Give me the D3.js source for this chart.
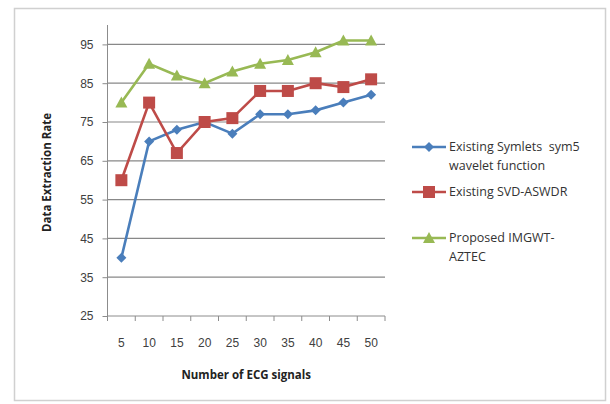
<!DOCTYPE html>
<html><head><meta charset="utf-8">
<script src="https://cdn.jsdelivr.net/npm/d3@7"></script>
<style>body{margin:0;background:#fff;}svg{display:block;font-family:"Open Sans","Liberation Sans",sans-serif;}text{white-space:pre;}</style>
</head><body><svg id="c" width="610" height="404"></svg>
<script>
const categories = [5,10,15,20,25,30,35,40,45,50];
const symletsValues = [40,70,73,75,72,77,77,78,80,82];
const svdValues = [60,80,67,75,76,83,83,85,84,86];
const proposedValues = [80,90,87,85,88,90,91,93,96,96];
const yTicks = [25,35,45,55,65,75,85,95];
const seriesNames = [["Existing Symlets  sym5","wavelet function"],["Existing SVD-ASWDR"],["Proposed IMGWT-","AZTEC"]];

const series = [
  {name: seriesNames[0], values: symletsValues, color: "#4A7EBB", shape: "diamond"},
  {name: seriesNames[1], values: svdValues, color: "#BE4B48", shape: "square"},
  {name: seriesNames[2], values: proposedValues, color: "#98B954", shape: "triangle"}
];

const svg = d3.select("#c");
svg.append("rect").attr("x",14.5).attr("y",8.5).attr("width",591).attr("height",392)
  .attr("fill","#fff").attr("stroke","#d0d0d0").attr("stroke-width",1.5);

const L = 107.5, R = 385, T = 25, B = 316;
const x = d3.scaleBand().domain(categories).range([L, R]);
const y = d3.scaleLinear().domain([25,100]).range([B, T]);

svg.append("g").selectAll("line").data(yTicks.filter(d=>d>25)).join("line")
  .attr("x1",L).attr("x2",R).attr("y1",d=>y(d)).attr("y2",d=>y(d))
  .attr("stroke","#888").attr("stroke-width",1.2);

const yAxis = svg.append("g").attr("transform",`translate(${L},0)`)
  .call(d3.axisLeft(y).tickValues(yTicks).tickSize(5).tickPadding(9));
yAxis.select(".domain").attr("stroke","#8c8c8c").attr("d",`M-0,${T}V${B}`);
yAxis.selectAll(".tick line").attr("stroke","#8c8c8c");
yAxis.selectAll("text").attr("font-size",12).attr("fill","#404040");

const xAxis = svg.append("g").attr("transform",`translate(0,${B})`)
  .call(d3.axisBottom(x).tickSize(0).tickPadding(22));
xAxis.select(".domain").attr("stroke","#8c8c8c").attr("d",`M${L},0H${R}`);
xAxis.selectAll("text").attr("font-size",12).attr("fill","#404040");
const bounds = categories.map(c=>x(c)).concat([R]);
xAxis.append("g").selectAll("line").data(bounds).join("line")
  .attr("x1",d=>d).attr("x2",d=>d).attr("y1",0).attr("y2",5).attr("stroke","#8c8c8c");

svg.append("text").attr("x",(L+R)/2).attr("y",379).attr("text-anchor","middle")
  .attr("font-size",11.5).attr("font-weight","bold").attr("fill","#222").text("Number of ECG signals");
svg.append("text").attr("transform",`translate(51,${(T+B)/2+2}) rotate(-90)`).attr("text-anchor","middle")
  .attr("font-size",11.5).attr("font-weight","bold").attr("fill","#222").text("Data Extraction Rate");

function marker(g, shape, color, cx, cy){
  if(shape==="diamond"){
    g.append("path").attr("d",`M${cx},${cy-5}L${cx+5},${cy}L${cx},${cy+5}L${cx-5},${cy}Z`).attr("fill",color);
  } else if(shape==="square"){
    g.append("rect").attr("x",cx-6).attr("y",cy-6).attr("width",12).attr("height",12).attr("fill",color);
  } else {
    g.append("path").attr("d",`M${cx},${cy-6}L${cx+6},${cy+5}L${cx-6},${cy+5}Z`).attr("fill",color);
  }
}

const line = d3.line().x((d,i)=>x(categories[i])+x.bandwidth()/2).y(d=>y(d));
series.forEach(s=>{
  const g = svg.append("g");
  g.append("path").attr("d",line(s.values)).attr("fill","none").attr("stroke",s.color).attr("stroke-width",2.6);
  s.values.forEach((v,i)=>marker(g,s.shape,s.color,x(categories[i])+x.bandwidth()/2,y(v)));
});

const legY = [147,192,238];
series.forEach((s,i)=>{
  const g = svg.append("g");
  const ly = legY[i];
  g.append("line").attr("x1",412).attr("x2",446).attr("y1",ly).attr("y2",ly).attr("stroke",s.color).attr("stroke-width",2.6);
  marker(g,s.shape,s.color,429,ly);
  s.name.forEach((t,j)=>{
    g.append("text").attr("x",449).attr("y",ly+4+j*19).attr("font-size",12.5).attr("fill","#333").text(t);
  });
});
</script></body></html>
